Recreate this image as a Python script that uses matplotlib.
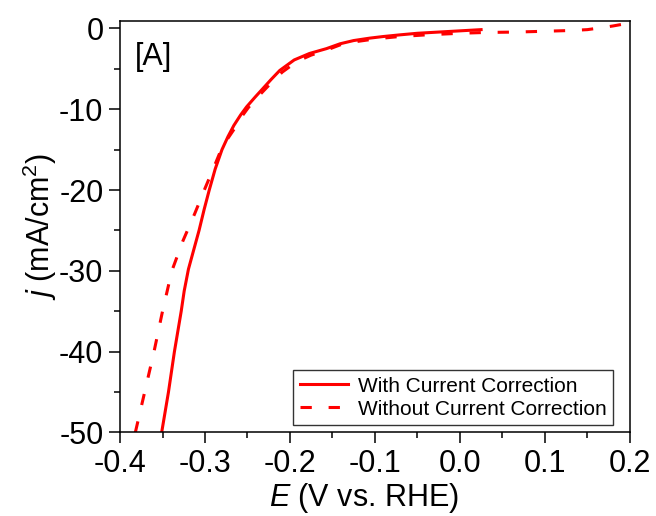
import matplotlib
matplotlib.use("Agg")
import matplotlib.pyplot as plt

plt.rcParams['font.family'] = ['Liberation Sans', 'DejaVu Sans']
plt.rcParams['mathtext.fontset'] = 'custom'
plt.rcParams['mathtext.rm'] = 'Liberation Sans'
plt.rcParams['mathtext.it'] = 'Liberation Sans:italic'

# data
# with current correction (solid)
e_with = [-0.351, -0.343, -0.336, -0.328, -0.3245, -0.3195, -0.313, -0.307, -0.301, -0.295,
          -0.288, -0.280, -0.273, -0.266, -0.258, -0.251, -0.241, -0.2315, -0.222,
          -0.212, -0.195, -0.177, -0.157, -0.141, -0.125, -0.106, -0.090, -0.071,
          -0.050, -0.025, 0.000, 0.025]
j_with = [-50.0, -45.0, -40.0, -35.0, -32.5, -29.8, -27.3, -25.0, -22.4, -20.0,
          -17.4, -15.0, -13.4, -12.0, -10.7, -9.7, -8.5, -7.4, -6.3,
          -5.2, -3.9, -3.1, -2.5, -1.9, -1.5, -1.2, -1.0, -0.8,
          -0.6, -0.45, -0.3, -0.15]

# without current correction (dashed)
e_without = [-0.382, -0.371, -0.360, -0.350, -0.339, -0.326, -0.312, -0.300, -0.290,
             -0.281, -0.273, -0.264, -0.256, -0.249, -0.239, -0.229, -0.219, -0.209,
             -0.192, -0.175, -0.155, -0.140, -0.120, -0.100, -0.071, -0.040, 0.000,
             0.030, 0.066, 0.100, 0.132, 0.150, 0.164, 0.180, 0.196]
j_without = [-50.0, -45.0, -40.0, -35.0, -30.0, -26.3, -22.9, -19.8, -17.3,
             -15.0, -13.6, -12.2, -10.8, -9.8, -8.6, -7.5, -6.4, -5.4,
             -4.1, -3.3, -2.6, -2.0, -1.6, -1.3, -1.0, -0.8, -0.6,
             -0.5, -0.45, -0.35, -0.25, -0.15, 0.05, 0.3, 0.6]

fig = plt.figure(figsize=(6.56, 5.16), dpi=100)
ax = fig.add_axes([0.183, 0.162, 0.777, 0.797])

ax.plot(e_with, j_with, color='#ff0000', lw=2.2, label='With Current Correction')
ax.plot(e_without, j_without, color='#ff0000', lw=2.2, dashes=(3.7, 5.5),
        dash_capstyle='butt', label='Without Current Correction')

ax.set_xlim(-0.4, 0.2)
ax.set_ylim(-50, 0.9)
ax.set_xticks([-0.4, -0.3, -0.2, -0.1, 0.0, 0.1, 0.2])
ax.set_xticklabels(['-0.4', '-0.3', '-0.2', '-0.1', '0.0', '0.1', '0.2'])
ax.set_xticks([-0.35, -0.25, -0.15, -0.05, 0.05, 0.15], minor=True)
ax.set_yticks([0, -10, -20, -30, -40, -50])
ax.set_yticklabels(['0', '-10', '-20', '-30', '-40', '-50'])
ax.set_yticks([-5, -15, -25, -35, -45], minor=True)

ax.tick_params(which='major', direction='out', length=8, width=1.1, labelsize=22, pad=4)
ax.tick_params(which='minor', direction='out', length=4.5, width=1.1)
for s in ax.spines.values():
    s.set_linewidth(1.1)

ax.set_xlabel('$\\it{E}$ (V vs. RHE)', fontsize=22)
ax.xaxis.set_label_coords(0.478, -0.118)
ax.set_ylabel('$\\it{j}$ (mA/cm$^2$)', fontsize=22, labelpad=0)

ax.text(0.03, 0.95, '[A]', transform=ax.transAxes, fontsize=22, va='top', ha='left')

leg = ax.legend(loc='lower right', bbox_to_anchor=(0.967, 0.018), borderaxespad=0,
                fontsize=15, frameon=True, fancybox=False, handlelength=2.3,
                handletextpad=0.5, labelspacing=0.2, borderpad=0.3)
leg.get_frame().set_edgecolor('black')
leg.get_frame().set_linewidth(1.0)

plt.savefig('out.png', dpi=100)
